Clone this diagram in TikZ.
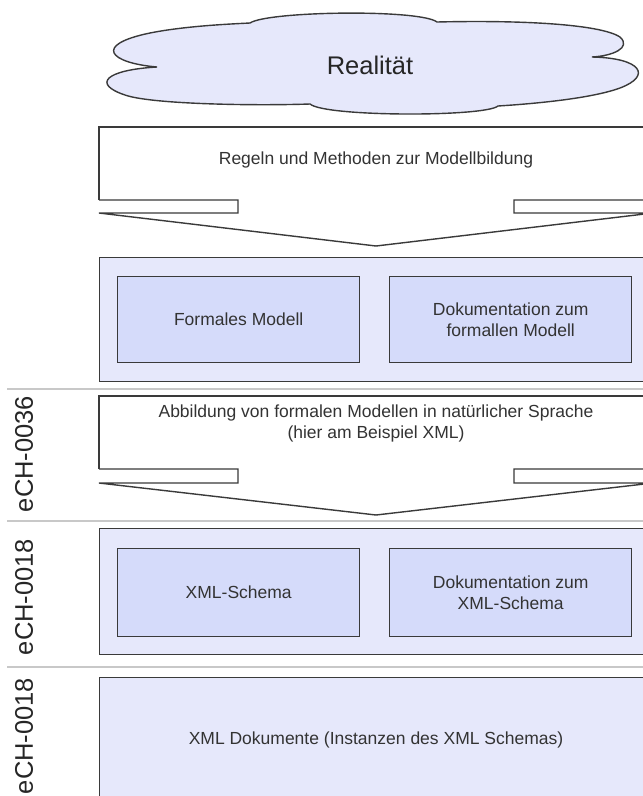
\documentclass[tikz,border=0pt]{standalone}
\usepackage{fontspec}
\setmainfont{Liberation Sans}
\definecolor{outerfill}{HTML}{E6E8FB}
\definecolor{innerfill}{HTML}{D5DBFA}
\definecolor{bordercol}{HTML}{3A3A3A}
\definecolor{sepcol}{HTML}{C8C8C8}
\definecolor{txtcol}{HTML}{333333}
\begin{document}
\begin{tikzpicture}[x=1pt,y=-1pt,
  border/.style={draw=bordercol, line width=1.4pt},
  outerbox/.style={border, fill=outerfill, anchor=north west, inner sep=0pt, minimum width=554pt},
  innerbox/.style={border, fill=innerfill, anchor=north west, inner sep=0pt, minimum width=242pt, align=center,
    font=\fontsize{17.5}{21}\selectfont, text=txtcol},
  bodytext/.style={font=\fontsize{17.5}{21}\selectfont, text=txtcol, align=center, inner sep=0pt},
  labeltext/.style={font=\fontsize{25.5}{28}\selectfont, text=black!85, rotate=90, inner sep=0pt},
  sepline/.style={draw=sepcol, line width=2pt},
  arrowline/.style={draw=bordercol, line width=1.4pt, line join=miter}
]
\useasboundingbox (0,0) rectangle (643,796);
\clip (0,0) rectangle (643,796);
\fill[white] (0,0) rectangle (643,796);

% cloud
\draw[border, fill=outerfill]
  (157,67) .. controls (110,63) and (92,45) .. (150,33)
  .. controls (185,26) and (230,24) .. (250,23)
  .. controls (268,11) and (420,9) .. (437,22)
  .. controls (520,20) and (600,24) .. (620,37)
  .. controls (632,48) and (612,56) .. (592,57)
  .. controls (642,58) and (652,76) .. (620,88)
  .. controls (590,99) and (530,104) .. (498,106)
  .. controls (485,117) and (325,117) .. (310,104)
  .. controls (250,106) and (150,104) .. (125,95)
  .. controls (92,84) and (105,70) .. (157,67) -- cycle;
\node[font=\fontsize{25.5}{28}\selectfont, text=black!85] (real) at (370,65) {Realität};

% arrow shape 1
\coordinate (a1tl) at (99,127);
\draw[arrowline] (99,200) -- (a1tl) -- (653,127) -- (653,200);
\draw[arrowline] (99,200) -- (238,200) -- (238,213) -- (99,213) -- (376,246) -- (653,213) -- (514,213) -- (514,200) -- (653,200);
\node[bodytext] (regeln) at (376,160) {Regeln und Methoden zur Modellbildung};

% box row 2
\node[outerbox, minimum height=124pt] (box2) at (99,257) {};
\node[innerbox, minimum height=86pt] (formal) at (117,276) {Formales Modell};
\node[innerbox, minimum height=86pt] (dokformal) at (389,276) {Dokumentation zum\\formallen Modell};

% separators
\draw[sepline] (7,389) coordinate (s1a) -- (643,389) coordinate (s1b);
\draw[sepline] (7,521) coordinate (s2a) -- (643,521) coordinate (s2b);
\draw[sepline] (7,667) coordinate (s3a) -- (643,667) coordinate (s3b);

% arrow shape 2
\draw[arrowline] (99,469) -- (99,396) -- (653,396) -- (653,469);
\draw[arrowline] (99,469) -- (238,469) -- (238,483) -- (99,483) -- (376,515) -- (653,483) -- (514,483) -- (514,469) -- (653,469);
\node[bodytext] (abbildung) at (376,423) {Abbildung von formalen Modellen in natürlicher Sprache\\(hier am Beispiel XML)};

% box row 3
\node[outerbox, minimum height=126pt] (box3) at (99,528) {};
\node[innerbox, minimum height=88pt] (xsd) at (117,548) {XML-Schema};
\node[innerbox, minimum height=88pt] (dokxsd) at (389,548) {Dokumentation zum\\XML-Schema};

% box row 4
\node[outerbox, minimum height=150pt] (box4) at (99,677) {};
\node[bodytext] (xmldok) at (376,740) {XML Dokumente (Instanzen des XML Schemas)};

% labels
\node[labeltext] (l1) at (24,454) {eCH-0036};
\node[labeltext] (l2) at (24,597) {eCH-0018};
\node[labeltext] (l3) at (24,736) {eCH-0018};
\end{tikzpicture}
\end{document}
